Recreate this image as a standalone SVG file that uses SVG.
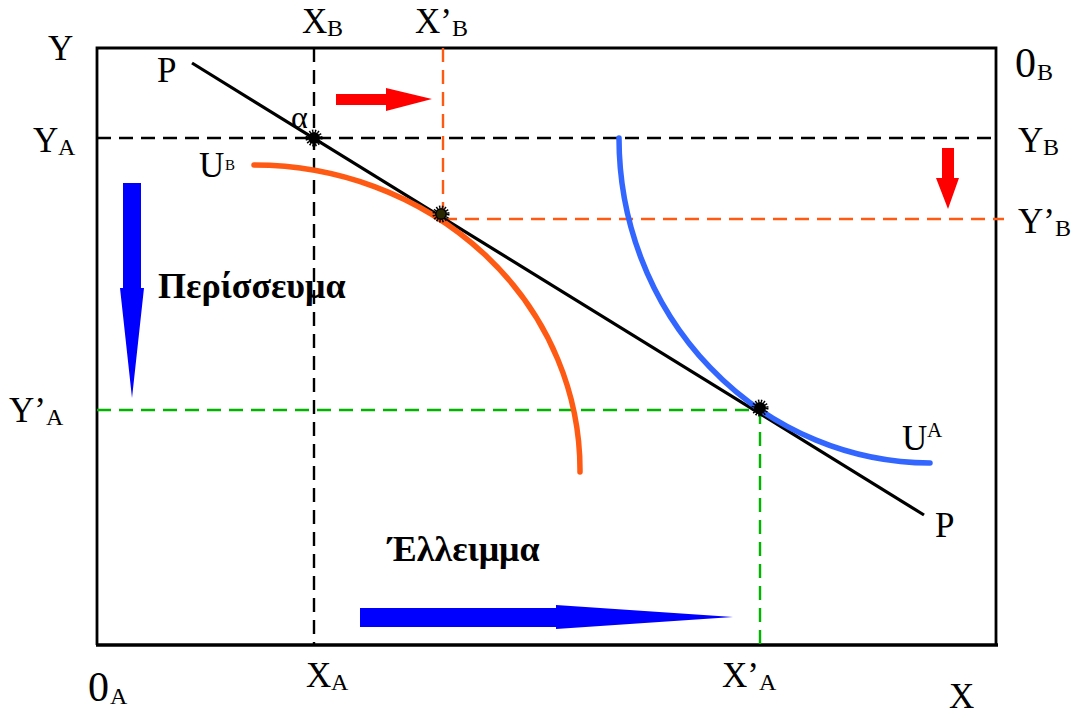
<svg xmlns="http://www.w3.org/2000/svg" xmlns:xlink="http://www.w3.org/1999/xlink" width="1077" height="714" viewBox="0 0 1077 714">
<style>
.t{font-family:"Liberation Serif","Times New Roman",serif;font-size:35px;fill:#000}
.s{font-family:"Liberation Serif","Times New Roman",serif;font-size:24px;fill:#000}
.z{font-family:"Liberation Serif","Times New Roman",serif;font-size:42px;fill:#000}
.b{font-family:"Liberation Serif","Times New Roman",serif;font-size:36px;font-weight:bold;fill:#000}
.dk{stroke:#000;stroke-width:2.4;fill:none;stroke-dasharray:14 8}
.do{stroke:#FF5A14;stroke-width:2.4;fill:none;stroke-dasharray:14 8}
.dg{stroke:#00B400;stroke-width:2.4;fill:none;stroke-dasharray:14 8}
</style>
<defs>
<g id="pt"><circle r="6" fill="#000"/><circle r="7" fill="none" stroke="#000" stroke-width="3" stroke-dasharray="1.4 1.4"/></g>
</defs>
<rect width="1077" height="714" fill="#fff"/>
<g id="frame">
<path d="M97,645 V48 H996 V645" fill="none" stroke="#000" stroke-width="2.8"/>
<path d="M96,645 H998" stroke="#000" stroke-width="3.4"/>
</g>
<g id="connectors">
<path class="dk" d="M314,48 V645"/>
<path class="dk" d="M97,138 H996"/>
<path class="do" d="M443,48 V215"/>
<path class="do" d="M443,219 H1004"/>
<path class="dg" d="M97,410 H760"/>
<path class="dg" d="M760,410 V645"/>
</g>
<g id="budget-line">
<path d="M192,63 L924,515" stroke="#000" stroke-width="3.2" fill="none"/>
</g>
<g id="curve-UB">
<path d="M254,165 A326,305 0 0 1 580,472" stroke="#FF5A14" stroke-width="5.5" fill="none" stroke-linecap="round"/>
</g>
<g id="curve-UA">
<path d="M619,138 A312,325 0 0 0 930,463" stroke="#3366FF" stroke-width="5.5" fill="none" stroke-linecap="round"/>
</g>
<g id="points">
<use xlink:href="#pt" x="314" y="138"/>
<use xlink:href="#pt" x="441" y="214"/>
<circle cx="441" cy="214" r="4.5" fill="#2a2800"/>
<use xlink:href="#pt" x="760" y="408"/>
</g>
<g id="arrows">
<path d="M336,94 H386 V88 L432,99 L386,111 V105 H336 Z" fill="#FF0000"/>
<path d="M942,148 H954 V178 H959 L948,209 L936,178 H942 Z" fill="#FF0000"/>
<path d="M123,183 H141 V288 H144 L132,398 L120,288 H123 Z" fill="#0000FF"/>
<path d="M360,608 H556 V605 L733,617 L556,629 V627 H360 Z" fill="#0000FF"/>
</g>
<g id="labels">
<text class="t" x="48" y="60">Y</text>
<text class="t" x="157" y="82">P</text>
<text class="t" x="302" y="33">X</text><text class="s" x="327" y="36">B</text>
<text class="t" x="415" y="33">X’</text><text class="s" x="452" y="36">B</text>
<text class="z" x="1015" y="77">0</text><text class="s" x="1037" y="80">B</text>
<text class="t" x="33" y="152">Y</text><text class="s" x="58" y="155">A</text>
<text class="t" x="1018" y="152">Y</text><text class="s" x="1043" y="155">B</text>
<text class="t" x="1018" y="233">Y’</text><text class="s" x="1055" y="236">B</text>
<text class="t" x="9" y="422">Y’</text><text class="s" x="46" y="425">A</text>
<text class="t" x="199" y="177">U</text><text class="s" x="225" y="170" style="font-size:15px">B</text>
<text class="t" x="291" y="128" style="font-size:32px">α</text>
<text class="t" x="902" y="450">U</text><text class="s" x="927" y="437" style="font-size:21px">A</text>
<text class="t" x="935" y="537">P</text>
<text class="z" x="88" y="701">0</text><text class="s" x="110" y="704">A</text>
<text class="t" x="306" y="687">X</text><text class="s" x="331" y="690">A</text>
<text class="t" x="722" y="687">X’</text><text class="s" x="759" y="690">A</text>
<text class="t" x="949" y="708">X</text>
<text class="b" x="158" y="298">Περίσσευμα</text>
<text class="b" x="388" y="561">Έλλειμμα</text>
</g>
</svg>
